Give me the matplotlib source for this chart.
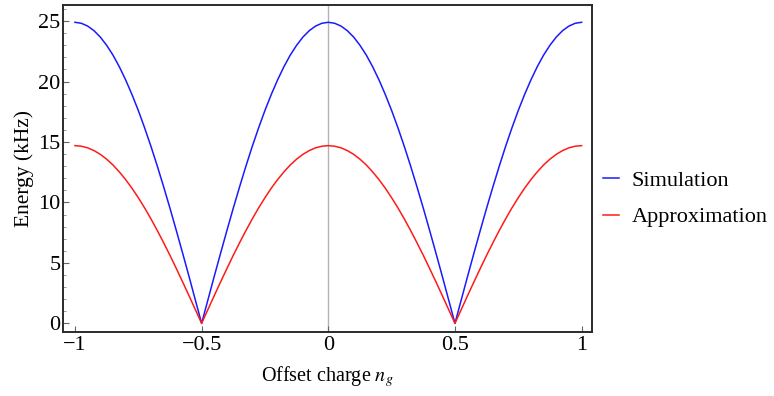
import matplotlib
matplotlib.use("Agg")
import matplotlib.pyplot as plt
from matplotlib.ticker import MultipleLocator

# Data (step 0.025 in n_g)
ng = [-1.000, -0.975, -0.950, -0.925, -0.900, -0.875, -0.850, -0.825, -0.800, -0.775,
      -0.750, -0.725, -0.700, -0.675, -0.650, -0.625, -0.600, -0.575, -0.550, -0.525,
      -0.500, -0.475, -0.450, -0.425, -0.400, -0.375, -0.350, -0.325, -0.300, -0.275,
      -0.250, -0.225, -0.200, -0.175, -0.150, -0.125, -0.100, -0.075, -0.050, -0.025,
      0.000, 0.025, 0.050, 0.075, 0.100, 0.125, 0.150, 0.175, 0.200, 0.225,
      0.250, 0.275, 0.300, 0.325, 0.350, 0.375, 0.400, 0.425, 0.450, 0.475,
      0.500, 0.525, 0.550, 0.575, 0.600, 0.625, 0.650, 0.675, 0.700, 0.725,
      0.750, 0.775, 0.800, 0.825, 0.850, 0.875, 0.900, 0.925, 0.950, 0.975, 1.000]
simulation = [24.90, 24.82, 24.59, 24.21, 23.68, 23.00, 22.19, 21.23, 20.14, 18.93,
              17.61, 16.17, 14.64, 13.01, 11.30, 9.53, 7.69, 5.81, 3.90, 1.95,
              0.00, 1.95, 3.90, 5.81, 7.69, 9.53, 11.30, 13.01, 14.64, 16.17,
              17.61, 18.93, 20.14, 21.23, 22.19, 23.00, 23.68, 24.21, 24.59, 24.82,
              24.90, 24.82, 24.59, 24.21, 23.68, 23.00, 22.19, 21.23, 20.14, 18.93,
              17.61, 16.17, 14.64, 13.01, 11.30, 9.53, 7.69, 5.81, 3.90, 1.95,
              0.00, 1.95, 3.90, 5.81, 7.69, 9.53, 11.30, 13.01, 14.64, 16.17,
              17.61, 18.93, 20.14, 21.23, 22.19, 23.00, 23.68, 24.21, 24.59, 24.82, 24.90]
approximation = [14.70, 14.65, 14.52, 14.29, 13.98, 13.58, 13.10, 12.53, 11.89, 11.18,
                 10.39, 9.55, 8.64, 7.68, 6.67, 5.63, 4.54, 3.43, 2.30, 1.15,
                 0.00, 1.15, 2.30, 3.43, 4.54, 5.63, 6.67, 7.68, 8.64, 9.55,
                 10.39, 11.18, 11.89, 12.53, 13.10, 13.58, 13.98, 14.29, 14.52, 14.65,
                 14.70, 14.65, 14.52, 14.29, 13.98, 13.58, 13.10, 12.53, 11.89, 11.18,
                 10.39, 9.55, 8.64, 7.68, 6.67, 5.63, 4.54, 3.43, 2.30, 1.15,
                 0.00, 1.15, 2.30, 3.43, 4.54, 5.63, 6.67, 7.68, 8.64, 9.55,
                 10.39, 11.18, 11.89, 12.53, 13.10, 13.58, 13.98, 14.29, 14.52, 14.65, 14.70]
xticks = [-1, -0.5, 0, 0.5, 1]
xticklabels = ["\u22121", "\u22120.5", "0", "0.5", "1"]
yticks = [0, 5, 10, 15, 20, 25]

plt.rcParams['font.family'] = ['Liberation Serif', 'DejaVu Serif']
plt.rcParams['mathtext.fontset'] = 'stix'

fig = plt.figure(figsize=(7.74, 3.96), dpi=100)
ax = fig.add_axes([63.3/774, 1-331.7/396, (592-63.3)/774, (331.7-5)/396])

ax.axvline(0, color='#b3b3b3', lw=1.0, zorder=1)
ax.plot(ng, simulation, color='#1a1aff', lw=1.1, label='Simulation', zorder=3)
ax.plot(ng, approximation, color='#ff1a1a', lw=1.1, label='Approximation', zorder=3)

ax.set_xlim(-1.046, 1.041)
ax.set_ylim(-0.69, 26.33)
ax.set_xticks(xticks)
ax.set_xticklabels(xticklabels)
ax.set_yticks(yticks)
ax.yaxis.set_minor_locator(MultipleLocator(1))

for s in ax.spines.values():
    s.set_color('#2b2b2b')
    s.set_linewidth(1.4)

ax.tick_params(axis='both', which='major', direction='in', length=4, width=0.8,
               color='#666666', labelsize=16, pad=3)
ax.tick_params(axis='y', which='minor', direction='in', length=2.5, width=0.6,
               color='#888888')
ax.tick_params(axis='y', which='major', pad=2)

ax.set_xlabel("Offset charge $n_g$", fontsize=14.5, labelpad=7)
ax.set_ylabel("Energy (kHz)", fontsize=15.5, labelpad=3)

leg = fig.legend(loc='center left', bbox_to_anchor=(603/774, 1-199/396),
                 frameon=False, fontsize=16, handlelength=0.7, handletextpad=0.6,
                 labelspacing=0.7, borderpad=0, borderaxespad=0)

fig.savefig("out.png", dpi=100)
